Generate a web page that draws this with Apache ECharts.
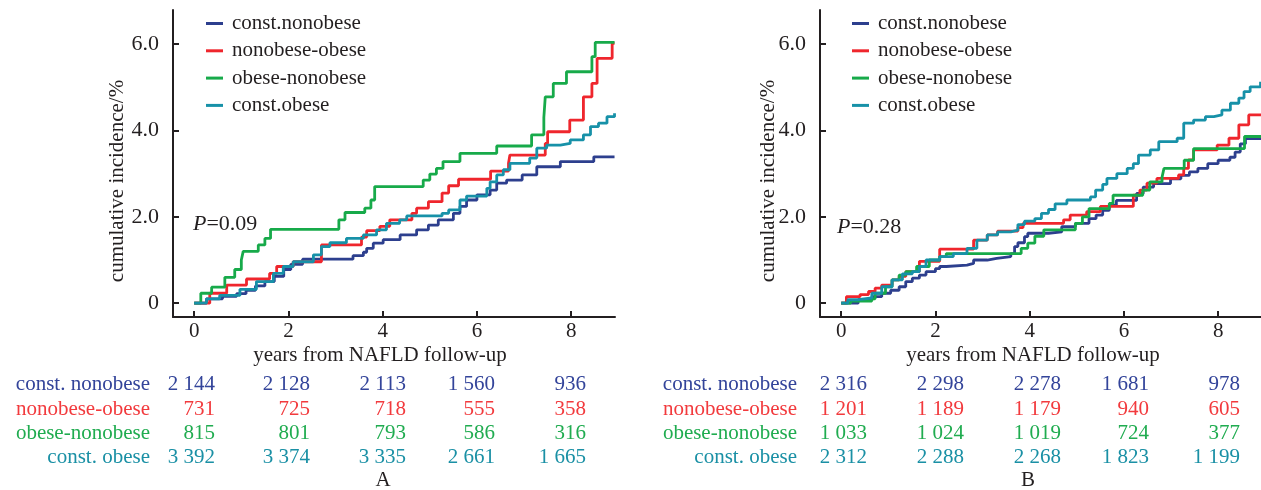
<!DOCTYPE html>
<html><head><meta charset="utf-8">
<script src="https://cdn.jsdelivr.net/npm/echarts@6/dist/echarts.min.js"></script>
<style>html,body{margin:0;padding:0;background:#fff}#c{width:1261px;height:490px}</style>
</head><body><div id="c"></div>
<script>
// ---------- data ----------
const seriesNames = ['const.nonobese', 'nonobese-obese', 'obese-nonobese', 'const.obese'];
const tableNames = ['const. nonobese', 'nonobese-obese', 'obese-nonobese', 'const. obese'];
const xTicks = [0, 2, 4, 6, 8];
const yTicks = [0, 2, 4, 6];
const xTitle = 'years from NAFLD follow-up';
const yTitle = 'cumulative incidence/%';
const panelLabels = ['A', 'B'];
const pValues = ['0.09', '0.28'];

const atRiskA = [
  [2144, 2128, 2113, 1560, 936],
  [731, 725, 718, 555, 358],
  [815, 801, 793, 586, 316],
  [3392, 3374, 3335, 2661, 1665]
];
const atRiskB = [
  [2316, 2298, 2278, 1681, 978],
  [1201, 1189, 1179, 940, 605],
  [1033, 1024, 1019, 724, 377],
  [2312, 2288, 2268, 1823, 1199]
];

// Panel A curves [years, cumulative incidence %]
const aConstNonobese = [[0,0],[0.26,0.1],[0.6,0.16],[0.9,0.22],[1.1,0.3],[1.3,0.4],[1.5,0.5],[1.7,0.62],[1.9,0.78],[2.05,0.9],[2.3,1.02],[3.37,1.1],[3.59,1.18],[3.66,1.27],[3.8,1.39],[4.01,1.47],[4.37,1.58],[4.72,1.7],[4.97,1.81],[5.18,1.93],[5.5,2.08],[5.64,2.24],[5.78,2.39],[6.0,2.51],[6.28,2.62],[6.42,2.78],[6.63,2.85],[6.96,2.97],[7.27,3.16],[7.77,3.28],[8.48,3.39],[8.92,3.39]];
const aNonobeseObese = [[0,0],[0.33,0.23],[0.69,0.42],[1.11,0.56],[1.6,0.69],[1.75,0.85],[2.1,0.96],[2.7,1.35],[3.55,1.53],[3.66,1.68],[3.94,1.78],[4.15,1.93],[4.62,2.08],[4.72,2.2],[4.97,2.35],[5.26,2.55],[5.4,2.72],[5.61,2.87],[6.29,3.06],[6.67,3.24],[6.7,3.43],[7.45,3.7],[7.5,3.97],[7.97,4.24],[8.26,4.78],[8.44,5.09],[8.55,5.67],[8.87,6.02],[8.92,6.02]];
const aObeseNonobese = [[0,0],[0.14,0.23],[0.37,0.37],[0.65,0.6],[0.86,0.78],[1.0,1.0],[1.04,1.2],[1.36,1.35],[1.5,1.5],[1.62,1.71],[3.07,1.93],[3.2,2.1],[3.62,2.2],[3.75,2.39],[3.83,2.7],[4.86,2.85],[5.0,2.99],[5.14,3.12],[5.28,3.28],[5.64,3.47],[6.42,3.64],[7.16,3.9],[7.42,4.3],[7.45,4.78],[7.62,5.09],[7.9,5.36],[8.44,5.71],[8.51,6.04],[8.92,6.04]];
const aConstObese = [[0,0],[0.26,0.1],[0.54,0.18],[0.97,0.32],[1.32,0.5],[1.68,0.69],[1.89,0.85],[2.1,0.96],[2.53,1.12],[2.7,1.31],[2.88,1.4],[3.23,1.5],[3.59,1.58],[3.87,1.7],[4.08,1.85],[4.36,1.93],[4.51,2.02],[5.26,2.08],[5.4,2.16],[5.64,2.39],[5.78,2.48],[6.21,2.66],[6.28,2.81],[6.42,2.97],[6.56,3.09],[6.7,3.24],[7.12,3.36],[7.27,3.59],[7.48,3.66],[7.77,3.7],[7.98,3.78],[8.26,3.9],[8.41,4.09],[8.58,4.17],[8.76,4.32],[8.92,4.4]];

// Panel B curves
const bConstNonobese = [[0,0],[0.36,0.08],[0.65,0.15],[0.86,0.23],[1.05,0.3],[1.23,0.38],[1.37,0.5],[1.51,0.58],[1.66,0.65],[1.8,0.73],[2.0,0.8],[2.09,0.85],[2.23,0.88],[2.67,0.92],[2.81,1.0],[3.1,1.04],[3.3,1.08],[3.6,1.15],[3.68,1.31],[3.75,1.4],[3.89,1.54],[3.96,1.62],[4.4,1.65],[4.68,1.77],[4.97,1.85],[5.26,1.96],[5.41,2.04],[5.55,2.15],[5.69,2.27],[5.84,2.38],[6.27,2.54],[6.41,2.69],[6.63,2.77],[6.99,2.88],[7.21,2.96],[7.39,3.04],[7.57,3.12],[7.78,3.23],[8.0,3.31],[8.25,3.38],[8.36,3.5],[8.47,3.69],[8.58,3.81],[8.92,3.81]];
const bNonobeseObese = [[0,0],[0.11,0.15],[0.4,0.2],[0.58,0.27],[0.72,0.35],[0.86,0.42],[1.08,0.54],[1.23,0.62],[1.37,0.73],[1.66,0.97],[2.09,1.25],[2.81,1.46],[3.1,1.58],[3.32,1.67],[3.75,1.75],[3.86,1.85],[4.72,1.93],[4.86,2.04],[5.21,2.12],[5.5,2.24],[6.2,2.5],[6.34,2.62],[6.49,2.78],[6.7,2.89],[7.16,2.97],[7.27,3.12],[7.37,3.32],[7.48,3.55],[7.98,3.66],[8.23,3.82],[8.44,4.13],[8.65,4.36],[8.92,4.36]];
const bObeseNonobese = [[0,0],[0.2,0.05],[0.65,0.1],[0.72,0.23],[0.94,0.38],[1.08,0.54],[1.23,0.65],[1.37,0.73],[1.6,0.85],[1.87,1.0],[2.09,1.08],[2.23,1.15],[3.82,1.27],[3.96,1.39],[4.11,1.55],[4.3,1.7],[4.97,1.85],[5.12,2.0],[5.26,2.19],[5.69,2.31],[5.77,2.5],[6.4,2.62],[6.55,2.81],[6.81,2.92],[6.85,3.12],[7.28,3.31],[7.48,3.58],[8.56,3.86],[8.92,3.86]];
const bConstObese = [[0,0],[0.14,0.08],[0.36,0.12],[0.65,0.23],[0.86,0.38],[1.08,0.54],[1.3,0.68],[1.51,0.73],[1.66,0.85],[1.8,1.0],[2.09,1.08],[2.38,1.15],[2.67,1.27],[2.88,1.46],[3.1,1.58],[3.32,1.65],[3.6,1.69],[3.75,1.82],[3.89,1.9],[4.11,1.96],[4.25,2.08],[4.4,2.17],[4.54,2.3],[4.79,2.39],[5.29,2.46],[5.4,2.62],[5.55,2.75],[5.64,2.89],[5.85,3.0],[6.07,3.12],[6.2,3.23],[6.31,3.43],[6.56,3.55],[6.74,3.74],[7.13,3.82],[7.27,4.17],[7.48,4.24],[7.73,4.32],[7.91,4.36],[8.08,4.47],[8.26,4.63],[8.44,4.75],[8.55,4.9],[8.68,5.01],[8.9,5.13]];

// ---------- styling ----------
const FONT = '"Liberation Serif", "DejaVu Serif", serif';
const INK = '#231f20';
const lineColors = ['#2d3f8e', '#ef262d', '#17aa4a', '#1791a8'];
const textColors = ['#33449a', '#f23a3d', '#20ac50', '#1a90a5'];

const panelsData = [
  [aConstNonobese, aNonobeseObese, aObeseNonobese, aConstObese],
  [bConstNonobese, bNonobeseObese, bObeseNonobese, bConstObese]
];
const tables = [atRiskA, atRiskB];

// layout
const grids = [
  { left: 173, top: 10, width: 442, height: 307 },
  { left: 820, top: 10, width: 441, height: 307 }
];
const xRanges = [[-0.45, 8.93], [-0.45, 8.91]];
const legendLeft = [201, 847];
const yTitleX = [117, 768];
const xTitleX = [380, 1033];
const pPos = [[193, 224], [837, 227]];
const labelRight = [150, 797];
const colRight = [[215, 310, 406, 495, 586], [867, 964, 1061, 1149, 1240]];
const rowY = [384, 409, 433, 457];
const panelLabelX = [383, 1028];

function fmt(n) {
  if (n >= 1000) return Math.floor(n / 1000) + ' ' + String(n % 1000).padStart(3, '0');
  return String(n);
}

const chart = echarts.init(document.getElementById('c'), null, { renderer: 'canvas' });

const xAxes = [], yAxes = [], series = [], legends = [], graphics = [];
for (let p = 0; p < 2; p++) {
  xAxes.push({
    type: 'value', gridIndex: p, min: xRanges[p][0], max: xRanges[p][1],
    axisLine: { show: true, onZero: false, lineStyle: { color: INK, width: 2 } },
    axisTick: { show: true, inside: true, length: 6, customValues: xTicks, lineStyle: { color: INK, width: 2 } },
    axisLabel: { customValues: xTicks, margin: 4, fontSize: 21, fontFamily: FONT, color: INK },
    splitLine: { show: false }
  });
  yAxes.push({
    type: 'value', gridIndex: p, min: -0.32, max: 6.79,
    axisLine: { show: true, onZero: false, lineStyle: { color: INK, width: 2 } },
    axisTick: { show: true, inside: true, length: 6, customValues: yTicks, lineStyle: { color: INK, width: 2 } },
    axisLabel: { customValues: yTicks, margin: 14, fontSize: 22, fontFamily: FONT, color: INK,
      formatter: v => (v === 0 ? '0' : v.toFixed(1)) },
    splitLine: { show: false }
  });
  seriesNames.forEach((name, i) => {
    series.push({
      name, type: 'line', xAxisIndex: p, yAxisIndex: p, step: 'end',
      data: panelsData[p][i], showSymbol: false, symbol: 'none',
      lineStyle: { color: lineColors[i], width: 2.8 }, itemStyle: { color: lineColors[i] },
      z: 2 + i
    });
  });
  legends.push({
    orient: 'vertical', left: legendLeft[p], top: 8, data: seriesNames,
    icon: 'rect', itemWidth: 17, itemHeight: 3, itemGap: 6.3, selectedMode: false,
    textStyle: { fontFamily: FONT, fontSize: 21, lineHeight: 21, color: INK, padding: [0, 0, 0, 4] }
  });
  graphics.push({
    type: 'text', x: yTitleX[p], y: 181, rotation: Math.PI / 2,
    style: { text: yTitle, fill: INK, font: '21px ' + FONT, align: 'center', verticalAlign: 'middle' }
  });
  graphics.push({
    type: 'text', x: xTitleX[p], y: 355,
    style: { text: xTitle, fill: INK, font: '21px ' + FONT, align: 'center', verticalAlign: 'middle' }
  });
  graphics.push({
    type: 'text', x: pPos[p][0], y: pPos[p][1],
    style: {
      text: '{i|P}{n|=' + pValues[p] + '}', align: 'left', verticalAlign: 'middle',
      rich: {
        i: { fontStyle: 'italic', fontSize: 22, fontFamily: FONT, fill: INK, color: INK },
        n: { fontSize: 22, fontFamily: FONT, fill: INK, color: INK }
      }
    }
  });
  tableNames.forEach((nm, r) => {
    graphics.push({
      type: 'text', x: labelRight[p], y: rowY[r],
      style: { text: nm, fill: textColors[r], font: '21px ' + FONT, align: 'right', verticalAlign: 'middle' }
    });
    tables[p][r].forEach((v, c) => {
      graphics.push({
        type: 'text', x: colRight[p][c], y: rowY[r],
        style: { text: fmt(v), fill: textColors[r], font: '21px ' + FONT, align: 'right', verticalAlign: 'middle' }
      });
    });
  });
  graphics.push({
    type: 'text', x: panelLabelX[p], y: 480,
    style: { text: panelLabels[p], fill: INK, font: '21px ' + FONT, align: 'center', verticalAlign: 'middle' }
  });
}

chart.setOption({
  animation: false,
  backgroundColor: '#ffffff',
  grid: grids.map(g => Object.assign({ containLabel: false }, g)),
  xAxis: xAxes,
  yAxis: yAxes,
  legend: legends,
  series,
  graphic: { elements: graphics }
});
</script>
</body></html>
